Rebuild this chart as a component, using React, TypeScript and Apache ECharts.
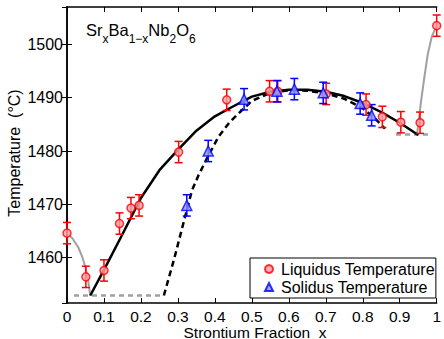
import React, { useEffect, useRef } from 'react';
import * as echarts from 'echarts';

// Measured liquidus temperatures (red circles)
const liquidusX = [0, 0.051, 0.1, 0.142, 0.173, 0.195, 0.302, 0.432, 0.548, 0.57, 0.701, 0.809, 0.853, 0.903, 0.955, 1.0];
const liquidusT = [1464.6, 1456.4, 1457.6, 1466.4, 1469.3, 1469.8, 1479.8, 1489.6, 1491.2, 1491.2, 1490.7, 1488.7, 1486.4, 1485.4, 1485.3, 1503.5];
const liquidusErr = [2, 2, 2, 2, 2, 2, 2, 2, 2, 2, 2, 2, 2, 2, 2, 2];

// Measured solidus temperatures (blue triangles)
const solidusX = [0.324, 0.382, 0.479, 0.568, 0.615, 0.693, 0.793, 0.824];
const solidusT = [1469.8, 1480.0, 1489.7, 1491.2, 1491.6, 1490.9, 1488.9, 1486.7];
const solidusErr = [2, 2, 2, 2, 2, 2, 2, 2];

// Fitted liquidus curve (black solid)
const liquidusFit = [
  [0.063, 1452.9], [0.1, 1457.7], [0.15, 1464.4], [0.2, 1471.2], [0.25, 1476.4],
  [0.3, 1480.2], [0.35, 1483.8], [0.4, 1486.5], [0.445, 1488.2], [0.5, 1490.2],
  [0.55, 1491.1], [0.6, 1491.5], [0.65, 1491.5], [0.7, 1491.1],
  [0.75, 1490.3], [0.8, 1489.0], [0.85, 1487.3], [0.9, 1485.3], [0.95, 1483.0],
];

// Fitted solidus curve (black dashed)
const solidusFit = [
  [0.262, 1452.9], [0.29, 1459.8], [0.315, 1466.5], [0.338, 1472.6], [0.356, 1475.5],
  [0.38, 1478.8], [0.41, 1482.7], [0.44, 1485.4], [0.465, 1487.1], [0.5, 1489.4],
  [0.55, 1490.9], [0.6, 1491.4], [0.65, 1491.3], [0.7, 1490.8], [0.75, 1489.8],
  [0.8, 1488.0], [0.83, 1486.3], [0.86, 1484.2],
];

// Gray curves (end members)
const grayLeft = [
  [0, 1464.5], [0.015, 1463.6], [0.03, 1462.0], [0.04, 1460.4], [0.05, 1458.2],
  [0.057, 1455.8], [0.063, 1452.9],
];
const grayRight = [
  [0.947, 1483.1], [0.952, 1486.0], [0.958, 1489.5], [0.966, 1493.5], [0.976, 1498.2],
  [0.987, 1501.5], [1.0, 1503.5],
];
// Gray dashed eutectic lines
const eutecticLeft = [[0.019, 1452.9], [0.262, 1452.9]];
const eutecticRight = [[0.89, 1483.1], [0.985, 1483.1]];

const yMin = 1451.5;
const yMax = 1507;

const FONT = 'Liberation Sans, Arial, Helvetica, sans-serif';

const errRender = (color: string) => (params: any, api: any) => {
  const x = api.value(0);
  const y = api.value(1);
  const e = api.value(2);
  const lo = api.coord([x, y - e]);
  const hi = api.coord([x, y + e]);
  const w = 4;
  const style = { stroke: color, lineWidth: 1.5, fill: 'none' };
  return {
    type: 'group',
    children: [
      { type: 'line', shape: { x1: lo[0], y1: lo[1], x2: hi[0], y2: hi[1] }, style },
      { type: 'line', shape: { x1: lo[0] - w, y1: lo[1], x2: lo[0] + w, y2: lo[1] }, style },
      { type: 'line', shape: { x1: hi[0] - w, y1: hi[1], x2: hi[0] + w, y2: hi[1] }, style },
    ],
  };
};

export default function App() {
  const ref = useRef<HTMLDivElement>(null);
  useEffect(() => {
    if (!ref.current) return;
    const chart = echarts.init(ref.current, undefined, { renderer: 'svg' });
    const xFmt = (v: number) => (v === 0 ? '0' : v === 1 ? '1' : v.toFixed(1));
    const yFmt = (v: number) => (Math.abs(v % 10) < 1e-6 ? String(v) : '');
    const axisLine = { show: true, lineStyle: { color: '#000', width: 1.5 } };
    const tick = { show: true, inside: true, length: 5, lineStyle: { color: '#000', width: 1 } };
    const liqData = liquidusX.map((x, i) => [x, liquidusT[i]]);
    const solData = solidusX.map((x, i) => [x, solidusT[i]]);
    const liqErr = liquidusX.map((x, i) => [x, liquidusT[i], liquidusErr[i]]);
    const solErr = solidusX.map((x, i) => [x, solidusT[i], solidusErr[i]]);
    chart.setOption({
      animation: false,
      backgroundColor: '#fff',
      textStyle: { fontFamily: FONT },
      grid: { left: 67, right: 2, top: 7, bottom: 36, containLabel: false },
      xAxis: [
        {
          type: 'value', min: 0, max: 1, interval: 0.1, position: 'bottom',
          axisLine, axisTick: tick, splitLine: { show: false },
          axisLabel: { formatter: xFmt, color: '#000', fontSize: 15.5, lineHeight: 15, fontFamily: FONT, margin: 6 },
        },
        {
          type: 'value', min: 0, max: 1, interval: 0.1, position: 'top',
          axisLine, axisTick: tick, splitLine: { show: false }, axisLabel: { show: false },
        },
      ],
      yAxis: [
        {
          type: 'value', min: yMin, max: yMax, splitNumber: 5, position: 'left',
          axisLine, axisTick: tick, splitLine: { show: false },
          axisLabel: { formatter: yFmt, color: '#000', fontSize: 16, fontFamily: FONT, margin: 4, showMinLabel: false, showMaxLabel: false },
        },
        {
          type: 'value', min: yMin, max: yMax, splitNumber: 5, position: 'right',
          axisLine, axisTick: tick, splitLine: { show: false }, axisLabel: { show: false },
        },
      ],
      legend: {
        orient: 'vertical',
        left: 250,
        top: 258,
        width: 188,
        padding: [3, 1, 3, 14],
        itemGap: 2,
        itemWidth: 8,
        itemHeight: 8,
        borderColor: '#000',
        borderWidth: 1,
        backgroundColor: '#fff',
        borderRadius: 0,
        textStyle: { color: '#000', fontSize: 16, fontFamily: FONT, padding: [0, 0, 0, 3] },
        data: ['Liquidus Temperature', 'Solidus Temperature'],
      },
      graphic: [
        {
          type: 'text', left: 86, top: 21, z: 10,
          style: {
            text: '{m|Sr}{s|x}{m|Ba}{s|1−x}{m|Nb}{s|2}{m|O}{s|6}',
            rich: {
              m: { fontSize: 16.5, fontFamily: FONT, fill: '#000', lineHeight: 30, verticalAlign: 'middle' },
              s: { fontSize: 12, fontFamily: FONT, fill: '#000', lineHeight: 12, verticalAlign: 'bottom' },
            },
          },
        },
        {
          type: 'text', x: 255, y: 332, z: 10,
          style: { text: 'Strontium Fraction  x', fontSize: 15.5, lineHeight: 15, fontFamily: FONT, fill: '#000', align: 'center', verticalAlign: 'middle' },
        },
        {
          type: 'text', x: 14, y: 153, rotation: Math.PI / 2, z: 10,
          style: { text: 'Temperature  (°C)', fontSize: 16, fontFamily: FONT, fill: '#000', align: 'center', verticalAlign: 'middle' },
        },
      ],
      series: [
        { type: 'line', name: 'grayLeft', data: grayLeft, showSymbol: false, symbol: 'none', lineStyle: { color: '#a0a0a0', width: 2 }, z: 1 },
        { type: 'line', name: 'grayRight', data: grayRight, showSymbol: false, symbol: 'none', lineStyle: { color: '#a0a0a0', width: 2 }, z: 1 },
        { type: 'line', name: 'eutL', data: eutecticLeft, showSymbol: false, symbol: 'none', lineStyle: { color: '#a0a0a0', width: 2.5, type: [5, 4] }, z: 1 },
        { type: 'line', name: 'eutR', data: eutecticRight, showSymbol: false, symbol: 'none', lineStyle: { color: '#a0a0a0', width: 2.5, type: [5, 4] }, z: 1 },
        { type: 'line', name: 'solFit', data: solidusFit, showSymbol: false, symbol: 'none', lineStyle: { color: '#000', width: 2.5, type: [6, 4] }, z: 2 },
        { type: 'line', name: 'liqFit', data: liquidusFit, showSymbol: false, symbol: 'none', lineStyle: { color: '#000', width: 2.5 }, z: 2 },
        { type: 'custom', name: 'liqErr', data: liqErr, renderItem: errRender('#ff0000'), encode: { x: 0, y: 1 }, z: 3 },
        { type: 'custom', name: 'solErr', data: solErr, renderItem: errRender('#0000ff'), encode: { x: 0, y: 1 }, z: 3 },
        {
          type: 'scatter', name: 'Liquidus Temperature', data: liqData, symbol: 'circle', symbolSize: 8,
          itemStyle: { color: '#f7a0a8', borderColor: '#ff0000', borderWidth: 1.5 }, z: 4,
        },
        {
          type: 'scatter', name: 'Solidus Temperature', data: solData, symbol: 'triangle', symbolSize: 10,
          itemStyle: { color: '#8c96ff', borderColor: '#0000ff', borderWidth: 1.5 }, z: 4,
        },
      ],
    });
    return () => chart.dispose();
  }, []);
  return <div ref={ref} style={{ position: 'absolute', left: 0, top: 0, width: 444, height: 339 }} />;
}
